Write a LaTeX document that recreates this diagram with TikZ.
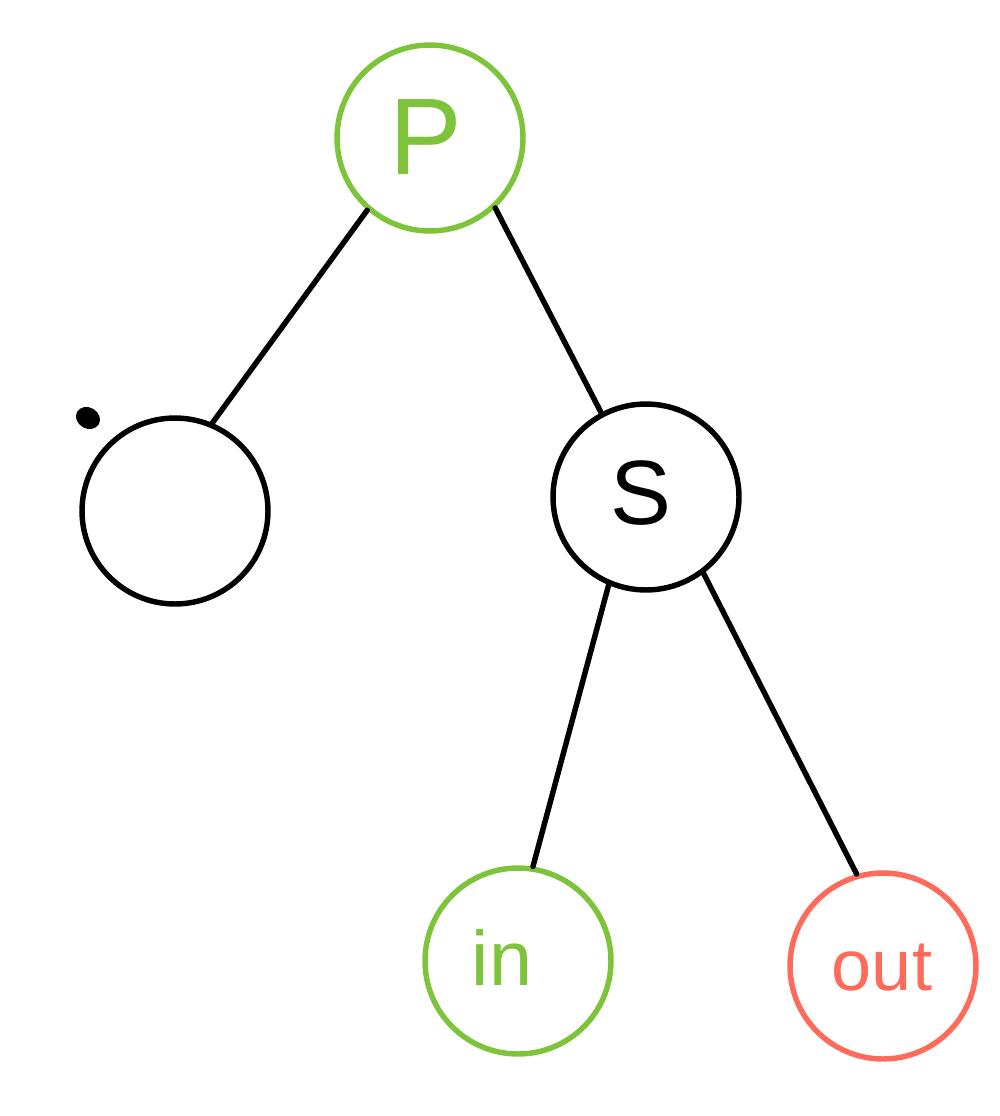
\documentclass[tikz,border=0pt]{standalone}
\usepackage{fontspec}
\setmainfont{Liberation Sans}
\definecolor{lgreen}{HTML}{7DC43A}
\definecolor{lred}{HTML}{FF6B5B}
\begin{document}
\begin{tikzpicture}[x=0.02cm,y=-0.02cm,
  treenode/.style={circle,draw,line width=3.1pt,minimum size=3.72cm,inner sep=0pt},
  edge/.style={line width=3.1pt,line cap=round},
  lbl/.style={inner sep=0pt}]
\useasboundingbox (0,0) rectangle (1000,1116);
\node[treenode,draw=lgreen] (P) at (430,138) {};
\node[treenode,draw=black] (L) at (175,511) {};
\node[treenode,draw=black] (S) at (646,497) {};
\node[treenode,draw=lgreen] (In) at (518,961) {};
\node[treenode,draw=lred] (Out) at (883,966) {};
\node[lbl,text=lgreen,font=\fontsize{62}{62}\selectfont] (Pt) at (426,137) {P};
\node[lbl,text=black,font=\fontsize{52}{52}\selectfont] (St) at (641,493) {S};
\node[lbl,text=lgreen,font=\fontsize{44}{44}\selectfont] (Int) at (502,957) {in};
\node[lbl,text=lred,font=\fontsize{41}{41}\selectfont] (Outt) at (882,968) {out};
\fill[black,rotate around={60:(88,418)}] (88,418) ellipse (0.21cm and 0.25cm);
\draw[edge] (P.229) -- (L.67.5);
\draw[edge] (P.313.7) -- (S.118.5);
\draw[edge] (S.247.7) -- (In.81.4);
\draw[edge] (S.307.3) -- (Out.106.3);
\end{tikzpicture}
\end{document}
